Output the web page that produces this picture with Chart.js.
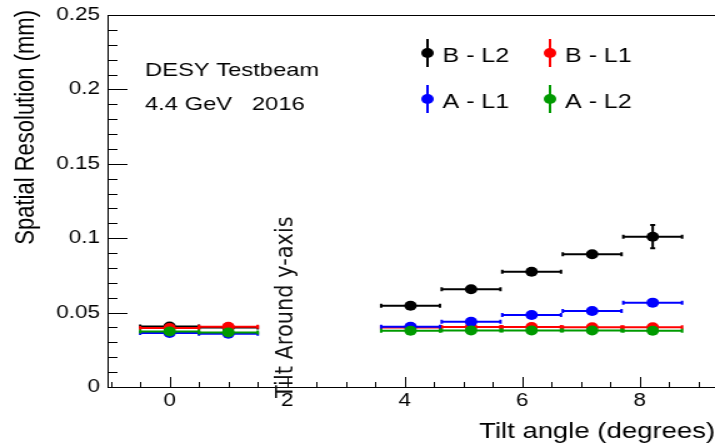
<!DOCTYPE html>
<html>
<head>
<meta charset="utf-8">
<script src="https://cdn.jsdelivr.net/npm/chart.js@4/dist/chart.umd.min.js"></script>
<style>
  html, body { margin: 0; padding: 0; background: #fff; overflow: hidden; }
  /* the plot is laid out on a 572px-wide canvas and shown 1.25x wider */
  #wrap { width: 572px; height: 445px; transform: scaleX(1.25); transform-origin: 0 0; }
</style>
</head>
<body>
<div id="wrap"><canvas id="c" width="572" height="445"></canvas></div>
<script>
// Tilt angles (degrees) and their half-width uncertainty
const tiltAngles    = [0, 1, 4.1, 5.13, 6.16, 7.19, 8.22];
const tiltHalfWidth = [0.5, 0.5, 0.5, 0.5, 0.5, 0.5, 0.5];

// Spatial resolution (mm) per sensor / layer, with uncertainties
const resB_L2 = [0.0407, 0.0400, 0.0546, 0.0657, 0.0775, 0.0892, 0.1010];
const errB_L2 = [0.0010, 0.0010, 0.0015, 0.0015, 0.0020, 0.0020, 0.0078];
const resB_L1 = [0.0397, 0.0405, 0.0400, 0.0403, 0.0403, 0.0402, 0.0401];
const errB_L1 = [0.0008, 0.0008, 0.0008, 0.0008, 0.0008, 0.0008, 0.0008];
const resA_L1 = [0.0363, 0.0358, 0.0405, 0.0439, 0.0484, 0.0511, 0.0567];
const errA_L1 = [0.0008, 0.0008, 0.0008, 0.0008, 0.0010, 0.0010, 0.0012];
const resA_L2 = [0.0373, 0.0367, 0.0378, 0.0380, 0.0380, 0.0380, 0.0378];
const errA_L2 = [0.0008, 0.0008, 0.0008, 0.0008, 0.0008, 0.0008, 0.0008];

const seriesNames  = ['B - L2', 'B - L1', 'A - L1', 'A - L2'];
const seriesColors = ['#000000', '#ff0000', '#0000ff', '#009a00'];

// Axis ticks
const xTicks = [0, 2, 4, 6, 8];
const yTicks = [0, 0.05, 0.1, 0.15, 0.2, 0.25];
const yTickLabels = ['0', '0.05', '0.1', '0.15', '0.2', '0.25'];

const FONT = '"Liberation Sans", Arial, Helvetica, sans-serif';

function makeSeries(idx, values, errors) {
  return {
    label: seriesNames[idx],
    data: tiltAngles.map((x, i) => ({ x: x, y: values[i] })),
    xErr: tiltHalfWidth,
    yErr: errors,
    borderColor: seriesColors[idx],
    backgroundColor: seriesColors[idx],
    pointBackgroundColor: seriesColors[idx],
    pointBorderWidth: 0,
    pointRadius: 5,
    pointHoverRadius: 5,
    showLine: false,
    order: 4 - idx   // later series are drawn on top
  };
}

// Error bars, drawn just before each series' markers
const errorBars = {
  id: 'errorBars',
  beforeDatasetDraw(chart, args) {
    const ds = chart.data.datasets[args.index];
    const xs = chart.scales.x, ys = chart.scales.y, ctx = chart.ctx;
    ctx.save();
    ctx.strokeStyle = ds.borderColor;
    ctx.lineWidth = 2;
    ds.data.forEach((p, i) => {
      const px = xs.getPixelForValue(p.x), py = ys.getPixelForValue(p.y);
      const x0 = xs.getPixelForValue(p.x - ds.xErr[i]);
      const x1 = xs.getPixelForValue(p.x + ds.xErr[i]);
      const y0 = ys.getPixelForValue(p.y - ds.yErr[i]);
      const y1 = ys.getPixelForValue(p.y + ds.yErr[i]);
      ctx.beginPath();
      ctx.moveTo(x0, py); ctx.lineTo(x1, py);
      ctx.moveTo(x0, py - 2); ctx.lineTo(x0, py + 2);
      ctx.moveTo(x1, py - 2); ctx.lineTo(x1, py + 2);
      ctx.moveTo(px, y0); ctx.lineTo(px, y1);
      ctx.moveTo(px - 2, y0); ctx.lineTo(px + 2, y0);
      ctx.moveTo(px - 2, y1); ctx.lineTo(px + 2, y1);
      ctx.stroke();
    });
    ctx.restore();
  }
};

// Frame with inward-pointing major and minor ticks
const frameTicks = {
  id: 'frameTicks',
  afterDatasetsDraw(chart) {
    const { ctx, chartArea: a } = chart;
    const xs = chart.scales.x, ys = chart.scales.y;
    ctx.save();
    ctx.strokeStyle = '#000';
    ctx.lineWidth = 1;
    ctx.beginPath();
    ctx.moveTo(a.right, a.top + 0.5); ctx.lineTo(a.left + 0.5, a.top + 0.5);
    ctx.lineTo(a.left + 0.5, a.bottom + 0.5); ctx.lineTo(a.right, a.bottom + 0.5);
    // x ticks every 0.5 degree, long ones at each labelled value
    for (let k = -2; k <= 18; k++) {
      const v = k / 2;
      const px = Math.round(xs.getPixelForValue(v)) + 0.5;
      if (px <= a.left + 1 || px >= a.right) continue;
      const len = (k % 4 === 0) ? 10 : 5;
      ctx.moveTo(px, a.bottom); ctx.lineTo(px, a.bottom - len);
    }
    // y ticks every 0.01 mm, long ones every 0.05 mm
    for (let k = 0; k <= 25; k++) {
      const py = Math.round(ys.getPixelForValue(k / 100)) + 0.5;
      const len = (k % 5 === 0) ? 16 : 8;
      ctx.moveTo(a.left, py); ctx.lineTo(a.left + len, py);
    }
    ctx.stroke();
    ctx.restore();
  }
};

// Annotations, legend and y-axis title
const annotations = {
  id: 'annotations',
  afterDraw(chart) {
    const ctx = chart.ctx;
    ctx.save();
    ctx.fillStyle = '#000';
    ctx.textBaseline = 'alphabetic';
    ctx.textAlign = 'left';

    ctx.font = '19px ' + FONT;
    ctx.fillText('DESY Testbeam', 116, 76);
    ctx.fillText('4.4 GeV   2016', 116, 110);

    // legend, two columns by two rows
    const cols = [342, 440], rows = [53, 99];
    ctx.font = '20px ' + FONT;
    chart.data.datasets.forEach((ds, i) => {
      const mx = cols[i % 2], my = rows[Math.floor(i / 2)];
      ctx.strokeStyle = ds.borderColor;
      ctx.fillStyle = ds.borderColor;
      ctx.lineWidth = 2;
      ctx.beginPath();
      ctx.moveTo(mx, my - 14); ctx.lineTo(mx, my + 14);
      ctx.stroke();
      ctx.beginPath();
      ctx.arc(mx, my, 5, 0, Math.PI * 2);
      ctx.fill();
      ctx.fillStyle = '#000';
      ctx.fillText(ds.label, mx + 12, my + 9);
    });

    // y-axis title, aligned to the top of the axis
    ctx.save();
    ctx.font = '22px ' + FONT;
    ctx.translate(27, 10);
    ctx.rotate(-Math.PI / 2);
    ctx.textAlign = 'right';
    ctx.fillText('Spatial Resolution (mm)', 0, 0);
    ctx.restore();

    // vertical note across the axis
    ctx.save();
    ctx.font = '19px "DejaVu Sans", sans-serif';
    ctx.fillStyle = '#111';
    ctx.translate(234, 398);
    ctx.rotate(-Math.PI / 2);
    ctx.scale(1.1, 1);
    ctx.textAlign = 'left';
    ctx.fillText('Tilt Around y-axis', 0, 0);
    ctx.restore();

    ctx.restore();
  }
};

new Chart(document.getElementById('c'), {
  type: 'scatter',
  data: {
    datasets: [
      makeSeries(0, resB_L2, errB_L2),
      makeSeries(1, resB_L1, errB_L1),
      makeSeries(2, resA_L1, errA_L1),
      makeSeries(3, resA_L2, errA_L2)
    ]
  },
  options: {
    responsive: false,
    animation: false,
    devicePixelRatio: 1,
    layout: { autoPadding: false, padding: { top: 15, right: 0, bottom: 0, left: 0 } },
    plugins: { legend: { display: false }, tooltip: { enabled: false } },
    scales: {
      x: {
        type: 'linear',
        min: -1.056,
        max: 9.28,
        grid: { display: false, drawTicks: false },
        border: { display: false },
        afterBuildTicks: s => { s.ticks = xTicks.map(v => ({ value: v })); },
        afterFit: s => { s.height = 58; s.paddingLeft = 0; s.paddingRight = 0; },
        ticks: {
          padding: 3,
          color: '#000',
          font: { family: FONT, size: 18 },
          maxRotation: 0,
          autoSkip: false,
          callback: v => String(v)
        },
        title: {
          display: true,
          text: 'Tilt angle (degrees)',
          align: 'end',
          color: '#000',
          font: { family: FONT, size: 22 },
          padding: { top: 0, bottom: 0 }
        }
      },
      y: {
        type: 'linear',
        min: 0,
        max: 0.25,
        grid: { display: false, drawTicks: false },
        border: { display: false },
        afterBuildTicks: s => { s.ticks = yTicks.map(v => ({ value: v })); },
        afterFit: s => { s.width = 86; s.paddingTop = 0; s.paddingBottom = 0; },
        ticks: {
          padding: 6,
          color: '#000',
          font: { family: FONT, size: 18 },
          autoSkip: false,
          callback: (v, i) => yTickLabels[i]
        }
      }
    }
  },
  plugins: [errorBars, frameTicks, annotations]
});
</script>
</body>
</html>
